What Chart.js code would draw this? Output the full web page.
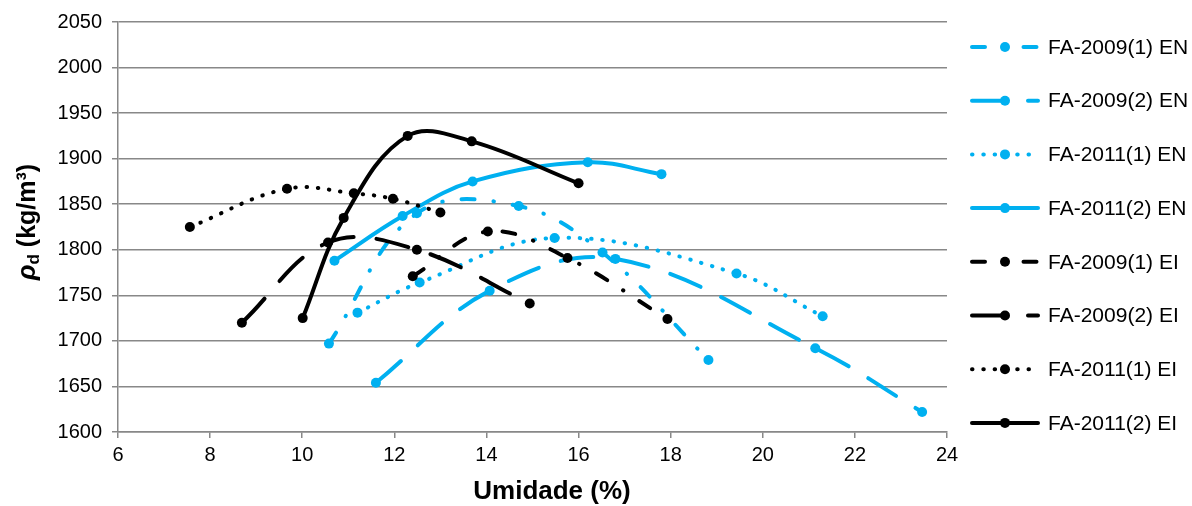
<!DOCTYPE html>
<html>
<head>
  <title>Umidade x massa específica seca</title>
  <script src="https://cdn.jsdelivr.net/npm/chart.js"></script>
  <style>
    html, body { margin: 0; padding: 0; background: #fff; }
    #contenedor { position: relative; width: 1192px; height: 506px; }
  </style>
</head>
<body>
  <div id="contenedor">
    <canvas id="myChart"></canvas>
  </div>

  <script>
    // nomes das séries (ordem da legenda)
    var rotulos = [
      'FA-2009(1) EN', 'FA-2009(2) EN', 'FA-2011(1) EN', 'FA-2011(2) EN',
      'FA-2009(1) EI', 'FA-2009(2) EI', 'FA-2011(1) EI', 'FA-2011(2) EI'
    ];

    // umidade (%) e massa específica seca (kg/m3)
    var fa2009_1_EN_x = [10.58, 12.49, 14.70, 16.52, 18.82];
    var fa2009_1_EN_y = [1697, 1840, 1848, 1797, 1679];
    var fa2009_2_EN_x = [11.60, 14.07, 16.80, 21.14, 23.46];
    var fa2009_2_EN_y = [1654, 1755, 1790, 1692, 1622];
    var fa2011_1_EN_x = [11.20, 12.55, 15.48, 19.43, 21.30];
    var fa2011_1_EN_y = [1731, 1764, 1813, 1774, 1727];
    var fa2011_2_EN_x = [10.70, 12.18, 13.70, 16.20, 17.80];
    var fa2011_2_EN_y = [1788, 1837, 1875, 1896, 1883];

    var fa2009_1_EI_x = [12.40, 14.03, 15.76, 17.93];
    var fa2009_1_EI_y = [1771, 1820, 1791, 1724];
    var fa2009_2_EI_x = [8.69, 10.56, 12.49, 14.94];
    var fa2009_2_EI_y = [1720, 1808, 1800, 1741];
    var fa2011_1_EI_x = [7.56, 9.67, 11.12, 11.97, 13.00];
    var fa2011_1_EI_y = [1825, 1867, 1862, 1856, 1841];
    var fa2011_2_EI_x = [10.01, 10.90, 12.29, 13.68, 16.00];
    var fa2011_2_EI_y = [1725, 1835, 1925, 1919, 1873];

    var eixoX = { min: 6, max: 24, passo: 2 };
    var eixoY = { min: 1600, max: 2050, passo: 50 };

    var azul = '#00B0F0';
    var preto = '#000000';
    var cinza = '#888888';
    var fonte = '"Liberation Sans", Arial, sans-serif';

    // tracejados
    var tracoPonto = [13, 19, 0.5, 19];
    var tracoLongo = [33, 23];
    var pontilhado = [0.5, 10.8];

    function pares(xs, ys) {
      var out = [];
      for (var i = 0; i < xs.length; i++) out.push({ x: xs[i], y: ys[i] });
      return out;
    }

    function serie(i, xs, ys, cor, traco) {
      return {
        label: rotulos[i],
        data: pares(xs, ys),
        borderColor: cor,
        backgroundColor: cor,
        pointBackgroundColor: cor,
        pointBorderWidth: 0,
        pointRadius: 5,
        borderWidth: 4,
        borderDash: traco,
        borderCapStyle: 'round',
        borderJoinStyle: 'round',
        tension: 0.38,
        fill: false,
        order: 8 - i
      };
    }

    var datasets = [
      serie(0, fa2009_1_EN_x, fa2009_1_EN_y, azul, tracoPonto),
      serie(1, fa2009_2_EN_x, fa2009_2_EN_y, azul, tracoLongo),
      serie(2, fa2011_1_EN_x, fa2011_1_EN_y, azul, pontilhado),
      serie(3, fa2011_2_EN_x, fa2011_2_EN_y, azul, []),
      serie(4, fa2009_1_EI_x, fa2009_1_EI_y, preto, tracoPonto),
      serie(5, fa2009_2_EI_x, fa2009_2_EI_y, preto, tracoLongo),
      serie(6, fa2011_1_EI_x, fa2011_1_EI_y, preto, pontilhado),
      serie(7, fa2011_2_EI_x, fa2011_2_EI_y, preto, [])
    ];

    // legenda à direita, no estilo do Excel (linha + marcador no meio)
    var legendaLateral = {
      id: 'legendaLateral',
      afterDraw: function(chart) {
        var ctx = chart.ctx;
        chart.data.datasets.forEach(function(ds, i) {
          var y = 47 + i * 53.7;
          ctx.save();
          ctx.strokeStyle = ds.borderColor;
          ctx.lineWidth = ds.borderWidth;
          ctx.lineCap = 'round';
          ctx.setLineDash(ds.borderDash);
          ctx.beginPath();
          ctx.moveTo(972, y);
          ctx.lineTo(1038, y);
          ctx.stroke();
          ctx.setLineDash([]);
          ctx.fillStyle = ds.pointBackgroundColor;
          ctx.beginPath();
          ctx.arc(1005, y, 5, 0, Math.PI * 2);
          ctx.fill();
          ctx.fillStyle = '#000';
          ctx.font = '21px ' + fonte;
          ctx.textBaseline = 'middle';
          ctx.textAlign = 'left';
          ctx.fillText(ds.label, 1048, y + 1);
          ctx.restore();
        });
      }
    };

    // títulos dos eixos (o do Y com subscrito: ρd (kg/m³))
    var titulos = {
      id: 'titulos',
      afterDraw: function(chart) {
        var ctx = chart.ctx;
        var partes = [
          { t: 'ρ', f: 'italic bold 26px ' + fonte, dy: 0 },
          { t: 'd', f: 'bold 17px ' + fonte, dy: 6 },
          { t: ' (kg/m³)', f: 'bold 25px ' + fonte, dy: 0 }
        ];
        ctx.save();
        var total = 0;
        partes.forEach(function(p) { ctx.font = p.f; p.w = ctx.measureText(p.t).width; total += p.w; });
        ctx.translate(28, 222);
        ctx.rotate(-Math.PI / 2);
        ctx.fillStyle = '#000';
        ctx.textBaseline = 'middle';
        var x = -total / 2;
        partes.forEach(function(p) {
          ctx.font = p.f;
          ctx.fillText(p.t, x, p.dy);
          x += p.w;
        });
        ctx.restore();

        ctx.save();
        ctx.fillStyle = '#000';
        ctx.font = 'bold 26px ' + fonte;
        ctx.textAlign = 'center';
        ctx.textBaseline = 'middle';
        ctx.fillText('Umidade (%)', 552, 492);
        ctx.restore();
      }
    };

    function semMilhar(v) { return String(v); }

    var ctx = document.getElementById('myChart').getContext('2d');
    var myChart = new Chart(ctx, {
      type: 'line',
      data: { datasets: datasets },
      plugins: [legendaLateral, titulos],
      options: {
        responsive: true,
        maintainAspectRatio: false,
        animation: false,
        layout: { padding: { top: 21, right: 245, left: 0, bottom: 0 } },
        plugins: {
          legend: { display: false },
          tooltip: { enabled: false }
        },
        scales: {
          x: {
            type: 'linear',
            min: eixoX.min,
            max: eixoX.max,
            afterFit: function(s) { s.height = 74; },
            ticks: {
              stepSize: eixoX.passo,
              color: '#000',
              padding: 5,
              callback: semMilhar,
              font: { family: fonte, size: 20 }
            },
            grid: {
              drawOnChartArea: false,
              drawTicks: true,
              tickLength: 6,
              color: cinza,
              lineWidth: 1.5
            },
            border: { display: true, color: cinza, width: 1.5 }
          },
          y: {
            min: eixoY.min,
            max: eixoY.max,
            afterFit: function(s) { s.width = 118; },
            ticks: {
              stepSize: eixoY.passo,
              color: '#000',
              padding: 10,
              callback: semMilhar,
              font: { family: fonte, size: 20 }
            },
            grid: {
              color: cinza,
              lineWidth: 1.5,
              tickLength: 6
            },
            border: { display: true, color: cinza, width: 1.5 }
          }
        }
      }
    });
  </script>
</body>
</html>
